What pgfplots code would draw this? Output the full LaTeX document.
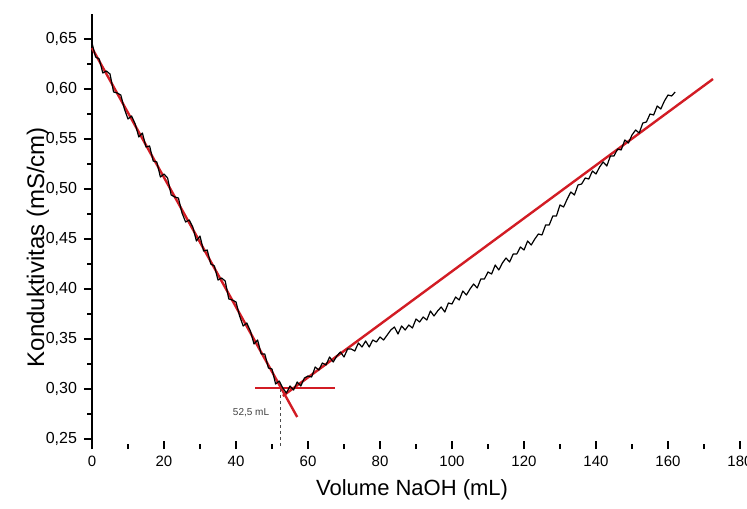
\documentclass[border=0pt]{standalone}
\usepackage{fontspec}
\setmainfont{Liberation Sans}
\usepackage{pgfplots}
\pgfplotsset{compat=1.18}
\usepackage{pgfplotstable}

\definecolor{fitred}{RGB}{210,28,36}

% conductometric titration: volume NaOH (mL) vs conductivity (mS/cm)
\pgfplotstableread{
v k
0 0.646
1 0.632
2 0.630
3 0.616
4 0.618
5 0.615
6 0.597
7 0.596
8 0.594
9 0.580
10 0.570
11 0.573
12 0.565
13 0.552
14 0.556
15 0.542
16 0.543
17 0.528
18 0.527
19 0.512
20 0.515
21 0.511
22 0.494
23 0.492
24 0.491
25 0.476
26 0.467
27 0.469
28 0.462
29 0.448
30 0.453
31 0.438
32 0.439
33 0.425
34 0.423
35 0.409
36 0.411
37 0.408
38 0.390
39 0.389
40 0.387
41 0.373
42 0.363
43 0.366
44 0.358
45 0.345
46 0.349
47 0.335
48 0.335
49 0.321
50 0.320
51 0.305
52 0.308
53 0.301
54 0.296
55 0.303
56 0.299
57 0.307
58 0.303
59 0.311
60 0.313
61 0.312
62 0.322
63 0.319
64 0.326
65 0.324
66 0.332
67 0.327
68 0.333
69 0.337
70 0.332
71 0.340
72 0.340
73 0.338
74 0.346
75 0.342
76 0.348
77 0.342
78 0.349
79 0.347
80 0.352
81 0.349
82 0.354
83 0.359
84 0.362
85 0.355
86 0.363
87 0.359
88 0.364
89 0.361
90 0.370
91 0.367
92 0.372
93 0.369
94 0.378
95 0.373
96 0.378
97 0.382
98 0.377
99 0.386
100 0.385
101 0.392
102 0.389
103 0.398
104 0.394
105 0.400
106 0.405
107 0.401
108 0.410
109 0.410
110 0.417
111 0.415
112 0.424
113 0.419
114 0.426
115 0.431
116 0.427
117 0.435
118 0.435
119 0.442
120 0.439
121 0.448
122 0.444
123 0.450
124 0.455
125 0.454
126 0.464
127 0.464
128 0.473
129 0.473
130 0.484
131 0.482
132 0.490
133 0.497
134 0.494
135 0.504
136 0.505
137 0.511
138 0.510
139 0.518
140 0.515
141 0.522
142 0.527
143 0.523
144 0.533
145 0.533
146 0.540
147 0.539
148 0.549
149 0.546
150 0.554
151 0.559
152 0.556
153 0.566
154 0.567
155 0.575
156 0.574
157 0.583
158 0.580
159 0.588
160 0.594
161 0.593
162 0.597
}\titration

\begin{document}
\begin{tikzpicture}
\begin{axis}[
  name=ax,
  scale only axis,
  width=324pt, height=217.5pt,
  xmin=0, xmax=180,
  ymin=0.24, ymax=0.675,
  axis x line*=bottom,
  axis y line*=left,
  x axis line style={draw=none},
  xtick={0,20,...,180},
  ytick={0.25,0.30,...,0.66},
  minor x tick num=1,
  minor y tick num=1,
  xtick align=inside,
  ytick align=outside,
  major tick length=4pt,
  minor tick length=2.5pt,
  tick style={black, line width=0.6pt},
  /pgf/number format/assume math mode=true,
  yticklabel style={font=\fontsize{8}{9}\selectfont,
    /pgf/number format/.cd, use comma, fixed, fixed zerofill, precision=2},
  xticklabel style={font=\fontsize{7.5}{9}\selectfont},
  xlabel={Volume NaOH (mL)},
  ylabel={Konduktivitas (mS/cm)},
  xlabel style={font=\fontsize{11}{13}\selectfont,
    at={(axis description cs:0.494,0)}, anchor=center, yshift=-20.5pt},
  ylabel style={font=\fontsize{12}{14}\selectfont,
    at={(axis description cs:-0.0833,0.464)}, anchor=center},
  axis line style={black, line width=0.9pt},
  clip=false,
]
  % linear fits of the two branches and the equivalence level
  \addplot[fitred, line width=1.2pt] coordinates {(0,0.641) (57,0.272)};
  \addplot[fitred, line width=1.2pt] coordinates {(53,0.293) (172.5,0.610)};
  \addplot[fitred, line width=1.2pt] coordinates {(45.3,0.301) (67.5,0.301)};
  % measured conductivity
  \addplot[black, line width=0.6pt, line join=round] table[x=v, y=k] {\titration};
  % equivalence volume marker
  \addplot[black!70, line width=0.5pt, dash pattern=on 1.5pt off 1.5pt] coordinates {(52.4,0.30) (52.4,0.24)};
  \node[anchor=east, font=\fontsize{5}{6}\selectfont, text=black!75, inner sep=0pt]
    at (axis cs:49.3,0.276) {52,5 mL};
\end{axis}
\pgfresetboundingbox
\path[use as bounding box] ([shift={(-46pt,-29.5pt)}]ax.south west) rectangle ++(373.5pt,254pt);
\end{tikzpicture}
\end{document}
